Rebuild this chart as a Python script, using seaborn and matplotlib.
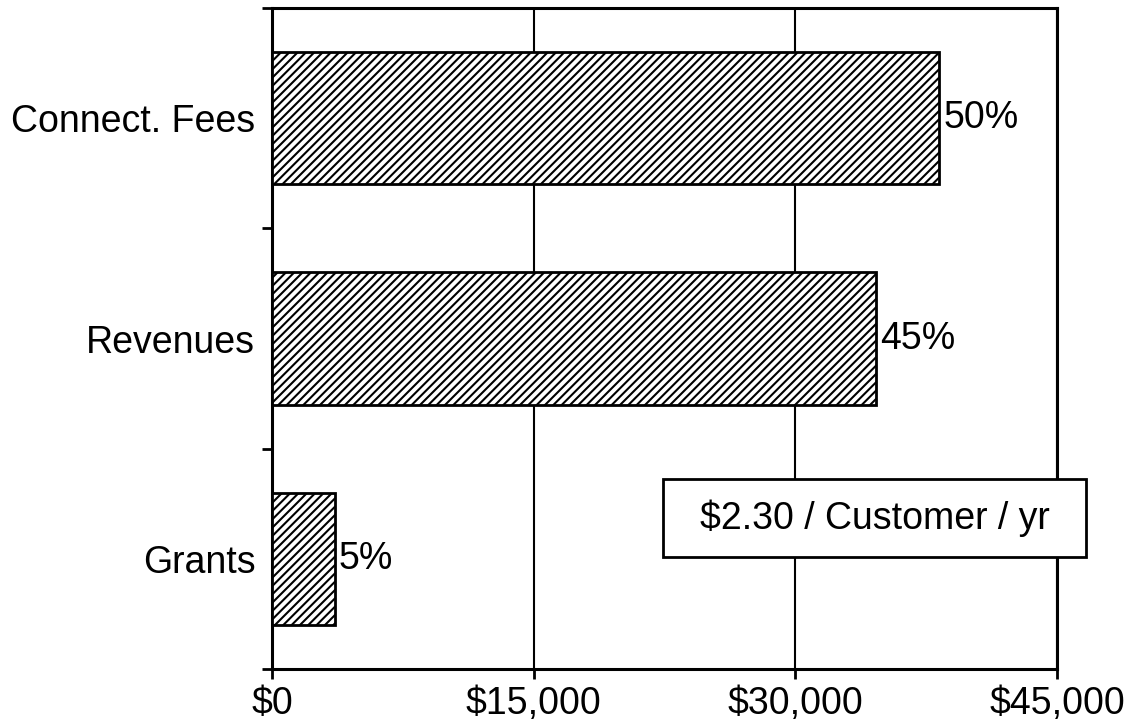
import matplotlib
matplotlib.use("Agg")
import matplotlib.pyplot as plt
import matplotlib.patches as mpatches
from matplotlib.ticker import FuncFormatter
import seaborn as sns

categories = ["Connect. Fees", "Revenues", "Grants"]
amounts = [38250, 34600, 3600]
share_labels = ["50%", "45%", "5%"]
x_ticks = [0, 15000, 30000, 45000]
note_text = "$2.30 / Customer / yr"

sns.set_style("ticks")
plt.rcParams["font.family"] = ["Liberation Sans", "DejaVu Sans"]
plt.rcParams["hatch.linewidth"] = 1.5
plt.rcParams["hatch.color"] = "black"

fig = plt.figure(figsize=(11.35, 7.27), dpi=100)
ax = fig.add_axes([272 / 1135, 1 - 669 / 727, (1057 - 272) / 1135, (669 - 8) / 727])

sns.barplot(x=amounts, y=categories, orient="h", width=0.6, color="white",
            edgecolor="black", linewidth=2, hatch="////", ax=ax, zorder=3)

for cont in ax.containers:
    ax.bar_label(cont, labels=share_labels, padding=3, fontsize=27, color="black")

ax.set_xlim(0, 45000)
ax.set_ylim(2.5, -0.5)
ax.set_xticks(x_ticks)
ax.xaxis.set_major_formatter(FuncFormatter(lambda v, p: f"${v:,.0f}"))
ax.set_yticks(range(len(categories)))
ax.set_yticklabels(categories)
ax.set_yticks([-0.5, 0.5, 1.5, 2.5], minor=True)
ax.tick_params(axis="y", which="major", length=0, pad=12, labelsize=27, colors="black")
ax.tick_params(axis="y", which="minor", length=7, width=2, direction="out", color="black")
ax.tick_params(axis="x", which="major", length=7, width=2, direction="out", pad=5,
               labelsize=27, colors="black")
ax.set_xlabel("")
ax.set_ylabel("")

ax.xaxis.grid(True, color="black", linewidth=1.5)
ax.yaxis.grid(False)
ax.set_axisbelow(True)
for s in ax.spines.values():
    s.set_visible(True)
    s.set_linewidth(2.2)
    s.set_color("black")

rect = mpatches.Rectangle((0.498, 0.1694), 0.539, 0.118, transform=ax.transAxes,
                          facecolor="white", edgecolor="black", linewidth=2,
                          clip_on=False, zorder=5)
ax.add_patch(rect)
ax.text(0.498 + 0.539 / 2, 0.1694 + 0.118 / 2, note_text, transform=ax.transAxes,
        ha="center", va="center", fontsize=27, color="black", zorder=6)

fig.savefig("out.png", dpi=100, facecolor="white")
